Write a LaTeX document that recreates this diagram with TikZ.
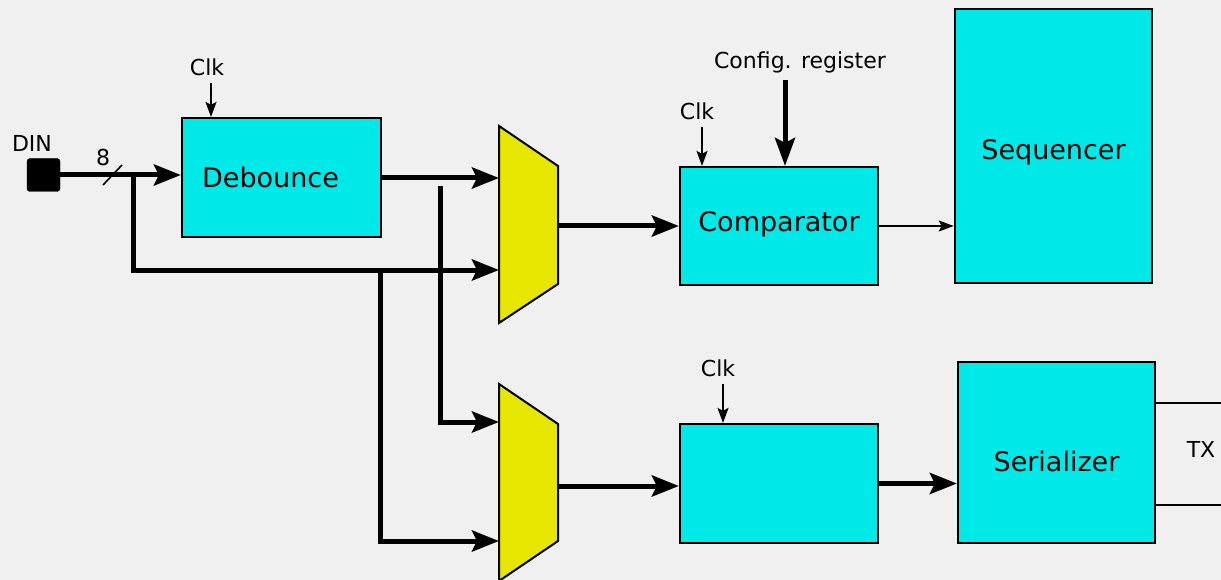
\documentclass[tikz,border=0pt]{standalone}
\usepackage{fontspec}
\setmainfont{DejaVu Sans}
\usetikzlibrary{positioning,arrows.meta}
\definecolor{blkcyan}{HTML}{00E9E9}
\definecolor{muxyellow}{HTML}{E6E600}
\definecolor{bggrey}{HTML}{F0F0F0}

\begin{document}
\begin{tikzpicture}[x=1pt, y=-1pt,
  lbl/.style={font=\fontsize{22}{26}\selectfont, inner sep=0pt},
  txt/.style={font=\fontsize{27}{31}\selectfont, inner sep=0pt},
  blk/.style={draw, line width=2.2pt, fill=blkcyan, inner sep=0pt},
  mux/.style={draw, line width=2pt, fill=muxyellow, line join=miter},
  bus/.style={line width=5pt, -{Stealth[length=27pt,width=21pt,inset=5pt]}},
  sig/.style={line width=1.7pt, -{Stealth[length=15pt,width=11pt,inset=3pt]}},
  txline/.style={line width=1.6pt}]

% background and page size
\fill[bggrey] (0,0) rectangle (1221,580);
\useasboundingbox (0,0) rectangle (1221,580);

% blocks
\node[draw, fill=black, rounded corners=3pt, minimum size=33pt, inner sep=0pt] (din) at (43.5,175) {};
\node[lbl] (dinlbl) at (32,143) {DIN};
\node[blk, minimum width=199pt, minimum height=119pt,
      label={[txt, xshift=-11pt]center:Debounce}] (deb) at (281.5,177.5) {};
\node[blk, minimum width=198pt, minimum height=118pt,
      label={[txt, yshift=2pt]center:Comparator}] (cmp) at (779,226) {};
\node[blk, line width=2.6pt, minimum width=197pt, minimum height=274pt,
      label={[txt, yshift=-6pt]center:Sequencer}] (seq) at (1053.5,146) {};
\node[blk, minimum width=198pt, minimum height=119pt] (reg) at (779,483.5) {};
\node[blk, minimum width=197pt, minimum height=181pt,
      label={[txt, yshift=-9pt]center:Serializer}] (ser) at (1056.5,452.5) {};

% muxes
\draw[mux] (499,126) -- (558,166) -- (558,284) -- (499,323) -- cycle;
\draw[mux] (499,384) -- (558,424) -- (558,541) -- (499,581) -- cycle;
\coordinate (muxAa) at (499,178);
\coordinate (muxAb) at (499,270);
\coordinate (muxAo) at (558,226);
\coordinate (muxBa) at (499,422);
\coordinate (muxBb) at (499,541);
\coordinate (muxBo) at (558,486);

% labels
\node[lbl] (width) at (103,157) {8};
\node[lbl] (clkA) at (207,67) {Clk};
\node[lbl] (clkB) at (697,111) {Clk};
\node[lbl] (clkC) at (718,368) {Clk};
\node[lbl] (cfg) at (800,62) {Config. register};
\node[lbl] (tx) at (1201,449) {TX};

% input bus
\coordinate (split) at (133,175);
\coordinate (tapA) at (440,186);
\coordinate (tapB) at (380,270);
\draw[bus] (din) -- (din -| deb.west);
\draw[line width=1.6pt] (103,185) -- (122,165);
\draw[bus] (split) |- (muxAb);
\draw[bus] (deb.east |- muxAa) -- (muxAa);
\draw[bus] (tapA) |- (muxBa);
\draw[bus] (tapB) |- (muxBb);

% mux outputs
\draw[bus] (muxAo) -- (muxAo -| cmp.west);
\draw[bus] (muxBo) -- (muxBo -| reg.west);
\draw[sig] (cmp.east) -- (cmp.east -| seq.west);
\draw[bus] (reg.east) -- (reg.east -| ser.west);

% clocks and config
\draw[sig] ([xshift=4pt,yshift=-7pt]clkA.south) -- ([xshift=4pt]clkA.south |- deb.north);
\draw[sig] ([xshift=5pt,yshift=-7pt]clkB.south) -- ([xshift=5pt]clkB.south |- cmp.north);
\draw[sig] ([xshift=5pt,yshift=-7pt]clkC.south) -- ([xshift=5pt]clkC.south |- reg.north);
\draw[bus, -{Stealth[length=28pt,width=20pt,inset=5pt]}] ([xshift=-15pt,yshift=-7pt]cfg.south) -- ([xshift=-15pt]cfg.south |- cmp.north);

% serial out
\coordinate (txA) at (1221,403);
\coordinate (txB) at (1221,505);
\draw[txline] (ser.east |- txA) -- (txA);
\draw[txline] (ser.east |- txB) -- (txB);
\end{tikzpicture}
\end{document}
